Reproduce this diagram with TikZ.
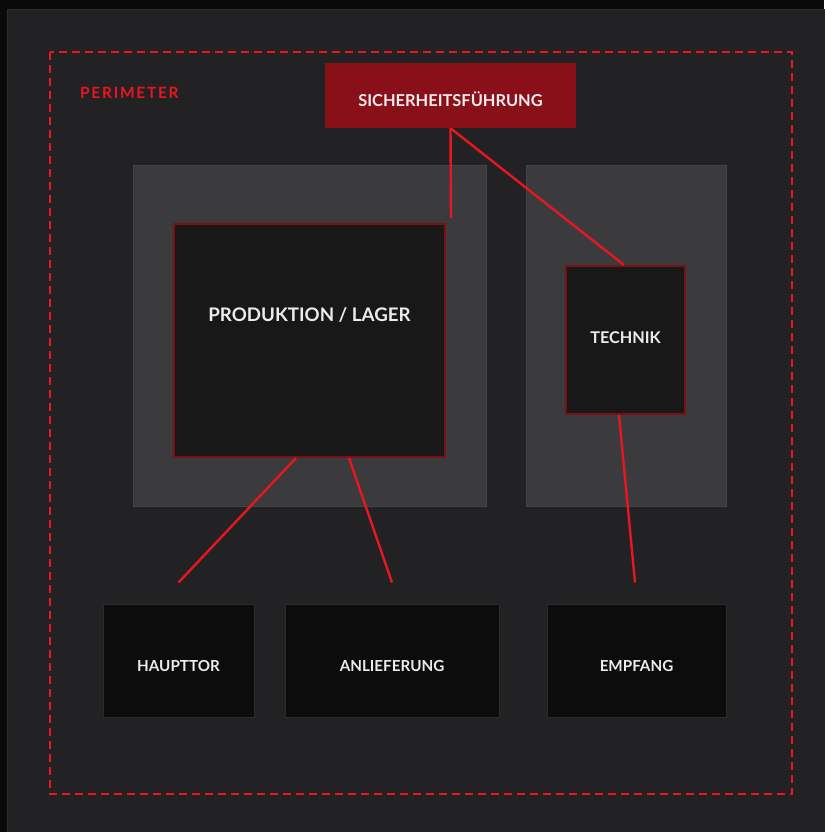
\documentclass[tikz,border=0pt]{standalone}
\usepackage{fontspec}
\setmainfont{Lato}
\newfontfamily\spacedfont[LetterSpace=11]{Lato}
\usetikzlibrary{calc}
\definecolor{outer}{HTML}{0A0A0A}
\definecolor{panel}{HTML}{222224}
\definecolor{panelrim}{HTML}{2C2C2E}
\definecolor{hall}{HTML}{3B3B3D}
\definecolor{hallrim}{HTML}{444446}
\definecolor{room}{HTML}{181818}
\definecolor{roomrim}{HTML}{7A1016}
\definecolor{gatebox}{HTML}{0C0C0C}
\definecolor{gaterim}{HTML}{2B2B2B}
\definecolor{lead}{HTML}{891018}
\definecolor{alarm}{HTML}{E8161F}
\definecolor{label}{HTML}{ECECEC}

\begin{document}
\begin{tikzpicture}[x=1pt, y=-1pt,
    room/.style={draw=roomrim, line width=2pt, fill=room, text=label, font=\bfseries\fontsize{18.7}{22}\selectfont},
    gate/.style={draw=gaterim, line width=1pt, fill=gatebox, text=label, font=\bfseries\fontsize{15.2}{18}\selectfont, minimum height=113pt, text height=22pt, text depth=0pt},
    link/.style={draw=alarm, line width=2.4pt}
]
			\useasboundingbox (0,0) rectangle (824,832);
			\fill[outer] (0,0) rectangle (824,832);
			\filldraw[fill=panel, draw=panelrim] (7.5,9.5) rectangle (830,840);

			% perimeter
			\draw[alarm, line width=2.2pt, dash pattern=on 8pt off 5pt] (50,52) rectangle (792,794);
			\node[anchor=west, text=alarm, font=\spacedfont\bfseries\fontsize{15.5}{18}\selectfont, inner sep=0pt] (peri) at (80,92.5) {PERIMETER};

			% halls
			\filldraw[fill=hall, draw=hallrim] (133,165) rectangle (486,506);
			\filldraw[fill=hall, draw=hallrim] (526,165) rectangle (726,506);

			\node[fill=lead, text=label, font=\bfseries\fontsize{16.4}{19}\selectfont, minimum width=251pt, minimum height=65pt, text height=22pt, text depth=0pt] (lead) at (450.5,95.5) {SICHERHEITSFÜHRUNG};

			\node[room, minimum width=271pt, minimum height=233pt, text height=14pt, text depth=51.6pt] (prod) at (309.5,340.5) {PRODUKTION / LAGER};
			\node[room, font=\bfseries\fontsize{16.2}{19}\selectfont, minimum width=119pt, minimum height=148pt, text height=8pt, text depth=0.4pt] (tech) at (625.5,340) {TECHNIK};

			\node[gate, minimum width=151pt] (haupt) at (178.5,660.5) {HAUPTTOR};
			\node[gate, minimum width=214pt] (anl) at (392,660.5) {ANLIEFERUNG};
			\node[gate, minimum width=179pt] (empf) at (636.5,660.5) {EMPFANG};

			\coordinate (haupt end) at ($(haupt.north)+(0,-21)$);
			\coordinate (anl end) at ($(anl.north)+(0,-21)$);
			\coordinate (empf end) at ($(empf.north)+(-1.5,-21)$);
			\coordinate (prod end) at ($(prod.north east)+(5,-5)$);

			\draw[link] (lead.south) -- (prod end);
			\draw[link] (lead.south) -- ($(tech.north)+(-1.5,0)$);
			\draw[link] ($(prod.south)+(-13.5,0)$) -- (haupt end);
			\draw[link] ($(prod.south)+(39.5,0)$) -- (anl end);
			\draw[link] ($(tech.south)+(-6.5,0)$) -- (empf end);
\end{tikzpicture}
\end{document}
